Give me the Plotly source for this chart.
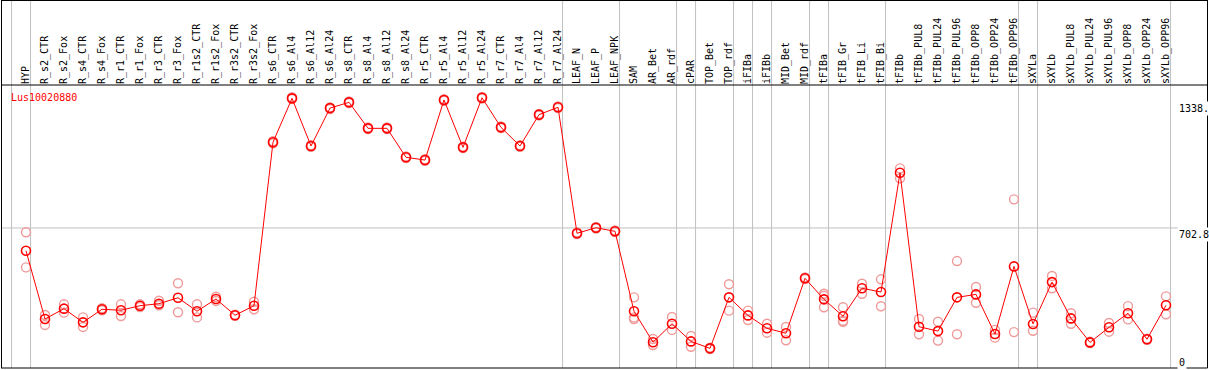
import plotly.graph_objects as go

W, H = 1209, 370

categories = [
    "HYP", "R_s2_CTR", "R_s2_Fox", "R_s4_CTR", "R_s4_Fox", "R_r1_CTR", "R_r1_Fox",
    "R_r3_CTR", "R_r3_Fox", "R_r1s2_CTR", "R_r1s2_Fox", "R_r3s2_CTR", "R_r3s2_Fox",
    "R_s6_CTR", "R_s6_Al4", "R_s6_Al12", "R_s6_Al24", "R_s8_CTR", "R_s8_Al4",
    "R_s8_Al12", "R_s8_Al24", "R_r5_CTR", "R_r5_Al4", "R_r5_Al12", "R_r5_Al24",
    "R_r7_CTR", "R_r7_Al4", "R_r7_Al12", "R_r7_Al24", "LEAF_N", "LEAF_P", "LEAF_NPK",
    "SAM", "AR_Bet", "AR_rdf", "cPAR", "TOP_Bet", "TOP_rdf", "iFIBa", "iFIBb",
    "MID_Bet", "MID_rdf", "tFIBa", "tFIB_Gr", "tFIB_Li", "tFIB_Bi", "tFIBb",
    "tFIBb_PUL8", "tFIBb_PUL24", "tFIBb_PUL96", "tFIBb_OPP8", "tFIBb_OPP24",
    "tFIBb_OPP96", "sXYLa", "sXYLb", "sXYLb_PUL8", "sXYLb_PUL24", "sXYLb_PUL96",
    "sXYLb_OPP8", "sXYLb_OPP24", "sXYLb_OPP96",
]

# group sizes (separator lines drawn after each group)
group_sizes = [1, 28, 3, 3, 1, 2, 1, 1, 2, 1, 3, 7, 1, 7]

means = [
    588, 244, 296, 227, 293, 288, 311, 321, 351, 283, 345, 263, 311,
    1135, 1356, 1116, 1307, 1336, 1205, 1205, 1059, 1045, 1348, 1109, 1359,
    1210, 1116, 1274, 1311, 676, 704, 686,
    283, 127, 220, 131, 96, 353, 262, 197, 172, 449, 343, 258, 399, 380, 981,
    205, 183, 353, 368, 168, 509, 219, 430, 247, 126, 202, 273, 142, 313,
]

rep_a = [
    681, 264, 318, 252, 298, 318, 318, 336, 424, 318, 356, 266, 331,
    1140, 1362, 1120, 1310, 1340, 1209, 1209, 1063, 1049, 1352, 1113, 1363,
    1214, 1120, 1278, 1315, 680, 708, 690,
    353, 143, 254, 158, 99, 419, 286, 220, 204, 453, 371, 303, 422, 444, 1003,
    244, 230, 536, 405, 189, 847, 276, 461, 273, 129, 224, 309, 145, 358,
]

rep_b = [
    504, 214, 276, 204, 288, 259, 304, 313, 278, 252, 335, 260, 293,
    1130, 1352, 1112, 1302, 1332, 1201, 1201, 1055, 1041, 1344, 1105, 1355,
    1206, 1112, 1270, 1307, 672, 700, 682,
    252, 113, 189, 104, 93, 286, 239, 175, 137, 445, 303, 235, 371, 308, 953,
    167, 135, 167, 326, 150, 178, 185, 399, 220, 123, 180, 242, 139, 268,
]

rep_c = [None] * 32 + [
    244, None, None, None, None, None, None, None, None, None, 361, 230, None, None, None,
    None, None, None, None, None, None, None, None, None, None, None, None, None, None,
]

gene_label = "Lus10020880"
y_tick_vals = [1338, 702.8, 0]
y_tick_text = ["1338.", "702.8", "0"]

# ---- pixel geometry helpers ----
x0_px, dx_px = 26.0, 19.0           # first category centre & spacing
plot_top_px, plot_bot_px = 85.0, 368.0
zero_px, scale = 367.4, 0.1984      # value 0 pixel row, px per unit

x_range = [-x0_px / dx_px, (W - x0_px) / dx_px]
y_range = [(zero_px - plot_bot_px) / scale, (zero_px - plot_top_px) / scale]
y_dom = [1 - plot_bot_px / H, 1 - plot_top_px / H]

def px(xp):
    return xp / W

def py(yp):
    return 1 - yp / H

mono = "DejaVu Sans Mono"
grey = "rgb(192,192,192)"

rep_x, rep_y = [], []
for arr in (rep_a, rep_b, rep_c):
    for c, v in zip(categories, arr):
        if v is not None:
            rep_x.append(c)
            rep_y.append(v)

fig = go.Figure()
fig.add_trace(go.Scatter(
    x=rep_x, y=rep_y, mode="markers",
    marker=dict(symbol="circle-open", size=9, color="#F09A9A", line=dict(width=1.4)),
    hoverinfo="skip", showlegend=False,
))
fig.add_trace(go.Scatter(
    x=categories, y=means, mode="lines+markers",
    line=dict(color="#FF0000", width=1),
    marker=dict(symbol="circle-open", size=9, color="#FF0000", line=dict(width=1.6)),
    showlegend=False,
))

shapes = []
# group separators
ends = [-1]
acc = -1
for g in group_sizes:
    acc += g
    ends.append(acc)
for e in ends:
    shapes.append(dict(type="line", xref="x", yref="paper", x0=e + 0.24, x1=e + 0.24,
                       y0=py(plot_bot_px), y1=1, line=dict(color=grey, width=1), layer="below"))
# horizontal grid at 702.8
shapes.append(dict(type="line", xref="paper", yref="y", x0=px(1), x1=px(1178),
                   y0=702.8, y1=702.8, line=dict(color=grey, width=1), layer="below"))
# frame
blk = dict(color="black", width=1)
shapes += [
    dict(type="line", xref="paper", yref="paper", x0=px(1), x1=px(1207.5), y0=py(0.5), y1=py(0.5), line=blk),
    dict(type="line", xref="paper", yref="paper", x0=px(1), x1=px(1207.5), y0=py(plot_top_px), y1=py(plot_top_px), line=blk),
    dict(type="line", xref="paper", yref="paper", x0=px(1), x1=px(1207.5), y0=py(plot_bot_px), y1=py(plot_bot_px), line=blk),
    dict(type="line", xref="paper", yref="paper", x0=px(1.5), x1=px(1.5), y0=py(plot_bot_px), y1=1, line=blk),
    dict(type="line", xref="paper", yref="paper", x0=px(1207.5), x1=px(1207.5), y0=py(plot_bot_px), y1=1, line=blk),
]

annotations = [
    dict(text=gene_label, xref="paper", yref="paper", x=px(9), y=py(98),
         xanchor="left", yanchor="middle", showarrow=False,
         font=dict(family=mono, size=10, color="#FF0000")),
]
for v, t in zip(y_tick_vals, y_tick_text):
    annotations.append(dict(text=t, xref="paper", yref="y", x=px(1177), y=v,
                            xanchor="left", yanchor="bottom" if v == 0 else "top",
                            yshift=-3 if v == 0 else 1,
                            showarrow=False, bgcolor="white",
                            font=dict(family=mono, size=10, color="black")))

fig.update_layout(
    width=W, height=H, margin=dict(l=0, r=0, t=0, b=0),
    paper_bgcolor="white", plot_bgcolor="white",
    xaxis=dict(type="category", categoryorder="array", categoryarray=categories,
               range=x_range, domain=[0, 1], side="top", tickangle=-90,
               tickfont=dict(family=mono, size=10, color="black"),
               showgrid=False, zeroline=False, showline=False, ticks="",
               automargin=False, fixedrange=True),
    yaxis=dict(range=y_range, domain=y_dom, showgrid=False, zeroline=False,
               showticklabels=False, showline=False, ticks="", automargin=False),
    shapes=shapes, annotations=annotations,
)

fig.write_html(
    "out.html",
    config={"displayModeBar": False},
    post_script="document.body.style.margin='0';document.body.style.overflow='hidden';",
)
